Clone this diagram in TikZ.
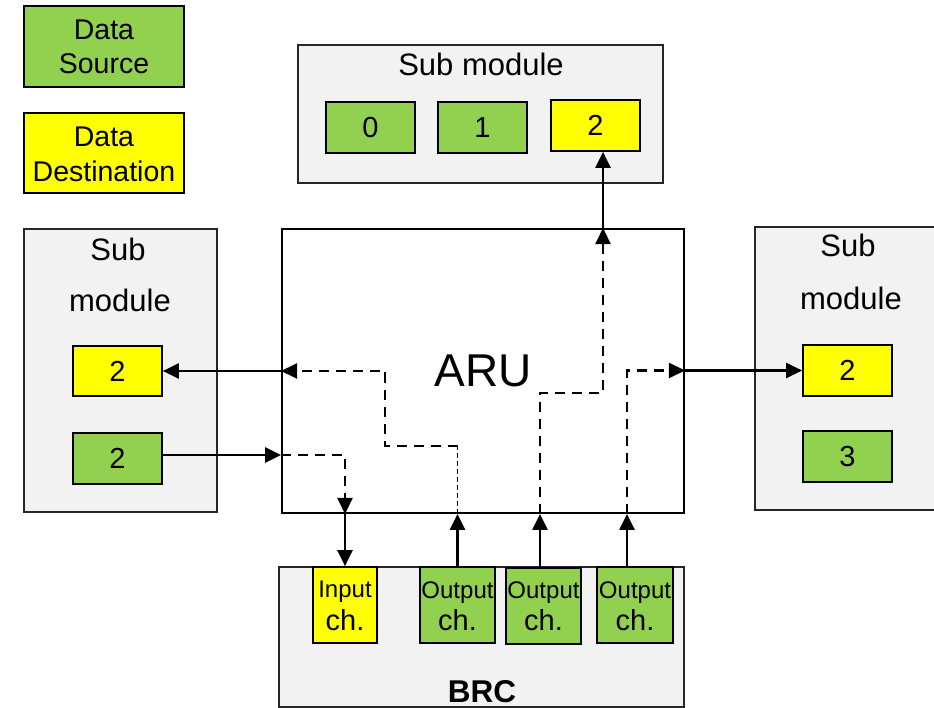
\documentclass[tikz,border=0pt]{standalone}
\usepackage{fontspec}
\setmainfont{Liberation Sans}
\usetikzlibrary{arrows.meta}
\definecolor{srcgreen}{HTML}{92D050}
\definecolor{dstyellow}{HTML}{FFFF00}
\definecolor{modgray}{HTML}{F2F2F2}
\tikzset{
  cell/.style={draw=black, line width=1.7pt, inner sep=0pt,
    minimum width=89pt, minimum height=51pt,
    font=\fontsize{29}{33}\selectfont},
  srccell/.style={cell, fill=srcgreen},
  dstcell/.style={cell, fill=dstyellow},
  module/.style={draw=black!85, line width=1.7pt, fill=modgray, inner sep=0pt},
  legendbox/.style={draw=black, line width=1.7pt, inner sep=0pt,
    minimum width=160pt, minimum height=81pt},
  chan/.style={draw=black, line width=1.7pt, inner sep=0pt, minimum height=76pt},
  modtitle/.style={anchor=base, inner sep=0pt, font=\fontsize{31}{36}\selectfont},
  legtext/.style={anchor=base, inner sep=0pt, font=\fontsize{28.5}{32}\selectfont},
  chsmall/.style={anchor=base, inner sep=0pt, font=\fontsize{24}{26}\selectfont},
  chbig/.style={anchor=base, inner sep=0pt, font=\fontsize{29}{32}\selectfont},
  flow/.style={line width=2.5pt, -{Triangle[length=16pt,width=15pt]}},
  route/.style={flow, dash pattern=on 10pt off 7pt},
  fineroute/.style={line width=1.5pt, dash pattern=on 5pt off 3pt},
}
\begin{document}
\begin{tikzpicture}[x=1pt,y=-1pt]
\useasboundingbox (0,0) rectangle (934,708);
\clip (0,0) rectangle (934,708);

% legend
\node[legendbox, fill=srcgreen] (legsrc) at (104,46.5) {};
\node[legtext] (legsrc1) at (104,40) {Data};
\node[legtext] (legsrc2) at (104,74) {Source};
\node[legendbox, fill=dstyellow, minimum height=80pt] (legdst) at (104,153) {};
\node[legtext] (legdst1) at (104,147) {Data};
\node[legtext] (legdst2) at (104,182) {Destination};

% top sub module
\node[module, minimum width=365pt, minimum height=138pt] (topmod) at (480.5,114) {};
\node[modtitle] (toptitle) at (481,76) {Sub module};
\node[srccell] (t0) at (370.5,127.5) {0};
\node[srccell] (t1) at (482.5,127.5) {1};
\node[dstcell] (t2) at (595.5,125.5) {2};

% left sub module
\node[module, minimum width=193pt, minimum height=283pt] (leftmod) at (120.5,370.5) {};
\node[modtitle] (lefttitle1) at (118,261) {Sub};
\node[modtitle] (lefttitle2) at (120,312) {module};
\node[dstcell, minimum height=50pt] (ly) at (117.5,371) {2};
\node[srccell] (lg) at (117.5,458.5) {2};

% right sub module
\node[module, minimum width=205pt, minimum height=283pt] (rightmod) at (857.5,368.5) {};
\node[modtitle] (righttitle1) at (848,257) {Sub};
\node[modtitle] (righttitle2) at (851,310) {module};
\node[dstcell] (ry) at (847.5,370.5) {2};
\node[srccell] (rg) at (847.5,456.5) {3};

% routing unit
\node[draw=black, line width=1.9pt, fill=white, minimum width=402pt, minimum height=284pt,
      inner sep=0pt, font=\fontsize{46}{50}\selectfont] (aru) at (483,371) {ARU};

% BRC with its channels
\node[module, minimum width=405pt, minimum height=140pt] (brc) at (481.5,637) {};
\node[anchor=base, inner sep=0pt, font=\fontsize{31.5}{34}\selectfont\bfseries] (brctitle) at (482,702) {BRC};
\node[chan, fill=dstyellow, minimum width=64pt] (inch) at (345,605) {};
\node[chan, fill=srcgreen, minimum width=75pt] (o1) at (457.5,605) {};
\node[chan, fill=srcgreen, minimum width=75pt] (o2) at (543.5,606) {};
\node[chan, fill=srcgreen, minimum width=76pt] (o3) at (635,605) {};
\node[chsmall] (inchA) at (345,597) {Input};
\node[chbig] (inchB) at (345,630) {ch.};
\node[chsmall] (o1A) at (457.5,598) {Output};
\node[chbig] (o1B) at (457.5,630) {ch.};
\node[chsmall] (o2A) at (543.5,598) {Output};
\node[chbig] (o2B) at (543.5,630) {ch.};
\node[chsmall] (o3A) at (635,598) {Output};
\node[chbig] (o3B) at (635,630) {ch.};

% routing points inside the ARU
\coordinate (aIn)   at (aru.west |- 0,455);
\coordinate (aInB)  at (aru.south -| inch.north);
\coordinate (aO1)   at (aru.south -| o1.north);
\coordinate (aO2)   at ([xshift=-3.5pt]aru.south -| o2.north);
\coordinate (aO3)   at ([xshift=-8pt]aru.south -| o3.north);
\coordinate (aLeft) at (aru.west |- ly.east);
\coordinate (aRight) at (aru.east |- ry.west);
\coordinate (aTop)  at (aru.north -| 603,0);

% green source (left) -> ARU -> input channel
\draw[flow] (lg.east |- aIn) -- (aIn);
\draw[route] (aIn) -| (aInB);
\draw[flow] (aInB) -- (inch.north);

% output channel 1 -> ARU -> left destination
\draw[flow] (o1.north) -- (aO1);
\draw[fineroute] (aO1) -- (aO1 |- 0,446);
\draw[route] (aO1 |- 0,446) -- (385,446) -- (385,371) -- (aLeft);
\draw[flow] (aLeft) -- (ly.east);

% output channel 2 -> ARU -> top destination
\draw[flow] ([xshift=-3.5pt]o2.north) -- (aO2);
\draw[route] (aO2) -- (aO2 |- 0,393) -- (603,393) -- (aTop);
\draw[flow] (aTop) -- (t2.south -| aTop);

% output channel 3 -> ARU -> right destination
\draw[flow] ([xshift=-8pt]o3.north) -- (aO3);
\draw[route] (aO3) |- (aRight);
\draw[flow] (aRight) -- (ry.west);
\end{tikzpicture}
\end{document}
